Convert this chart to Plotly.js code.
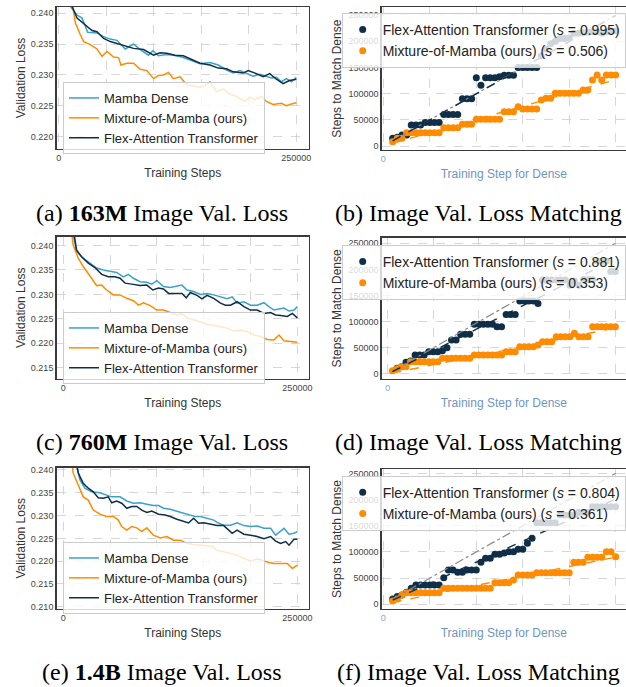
<!DOCTYPE html>
<html><head><meta charset="utf-8">
<script src="https://cdn.plot.ly/plotly-3.0.1.min.js"></script>
<style>html,body{margin:0;padding:0;background:#fff}#chart{width:626px;height:687px}</style>
</head><body><div id="chart"></div>
<script>
// ---------- Series names ----------
const NAME_MD = 'Mamba Dense';
const NAME_MOM = 'Mixture-of-Mamba (ours)';
const NAME_FLEX = 'Flex-Attention Transformer';

// ---------- (a) 163M validation loss ----------
const A_MD_STEPS = [10000,12500,19200,24500,30400,35000,40200,47200,54200,61200,69900,78700,85700,94400,99000,104900,113600,120600,129400,138100,148600,159100,167800,176600,183600,190600,197600,204500,211500,218500,223800,229000,234300,239500,244800,250000];
const A_MD_LOSS  = [0.2450,0.2410,0.2397,0.2392,0.2369,0.2368,0.2368,0.2362,0.2358,0.2356,0.2342,0.2350,0.2341,0.2332,0.2339,0.2331,0.2333,0.2332,0.2329,0.2324,0.2318,0.2320,0.2316,0.2308,0.2303,0.2307,0.2303,0.2298,0.2301,0.2298,0.2295,0.2296,0.2289,0.2294,0.2289,0.2296];
const A_FLEX_STEPS = [10000,14000,19200,28000,35000,40200,47200,54200,61200,69900,78700,89200,99700,106600,113600,122400,131100,139900,148600,159100,167800,176600,183600,194100,199300,208000,215000,222000,229000,236000,242700,250000];
const A_FLEX_LOSS  = [0.2450,0.2411,0.2392,0.2381,0.2372,0.2370,0.2359,0.2354,0.2351,0.2346,0.2343,0.2341,0.2332,0.2336,0.2335,0.2332,0.2331,0.2325,0.2319,0.2316,0.2311,0.2310,0.2305,0.2303,0.2307,0.2302,0.2297,0.2302,0.2293,0.2286,0.2291,0.2293];
const A_MOM_STEPS = [10000,17500,22700,26200,33200,40200,45500,50700,57700,62900,65400,71700,78700,85700,92700,99700,104900,110100,115400,120600,127600,134600,141600,148600,153800,159100,166100,173100,180100,187100,195800,201000,206300,213300,218500,225500,234300,239500,244800,250000];
const A_MOM_LOSS  = [0.2455,0.2384,0.2365,0.2354,0.2349,0.2342,0.2330,0.2338,0.2329,0.2328,0.2316,0.2319,0.2319,0.2309,0.2307,0.2294,0.2299,0.2300,0.2304,0.2294,0.2297,0.2284,0.2282,0.2280,0.2283,0.2289,0.2273,0.2277,0.2269,0.2265,0.2257,0.2264,0.2260,0.2265,0.2257,0.2252,0.2254,0.2250,0.2253,0.2255];

// ---------- (c) 760M validation loss ----------
const C_MD_STEPS = [9000,14300,21400,28600,35700,42900,50000,57100,64300,69600,75000,82100,89300,94600,100000,107100,114300,121400,126800,132100,139300,146400,153600,160700,167900,175000,180400,185700,192900,200000,207100,214300,219600,225000,230400,235700,241100,246400,250000];
const C_MD_LOSS  = [0.2440,0.2388,0.2374,0.2364,0.2354,0.2350,0.2347,0.2345,0.2336,0.2341,0.2333,0.2326,0.2325,0.2321,0.2328,0.2316,0.2314,0.2316,0.2319,0.2309,0.2306,0.2300,0.2302,0.2299,0.2295,0.2291,0.2295,0.2282,0.2285,0.2278,0.2278,0.2283,0.2275,0.2268,0.2270,0.2272,0.2266,0.2268,0.2275];
const C_FLEX_STEPS = [10000,14300,19600,26800,33900,41100,48200,55400,60700,66100,73200,82100,89300,95700,101800,107100,112500,119600,126800,131400,135700,142900,148200,153600,160700,167900,173200,178600,185700,192900,200000,207100,214300,221400,226800,232100,239300,244600,250000];
const C_FLEX_LOSS  = [0.2445,0.2391,0.2377,0.2364,0.2355,0.2341,0.2336,0.2336,0.2333,0.2323,0.2321,0.2318,0.2319,0.2309,0.2313,0.2311,0.2302,0.2302,0.2302,0.2293,0.2304,0.2298,0.2291,0.2298,0.2292,0.2282,0.2278,0.2278,0.2285,0.2275,0.2268,0.2268,0.2261,0.2263,0.2258,0.2257,0.2255,0.2261,0.2252];
const C_MOM_STEPS = [7500,10700,16100,21400,30400,35700,41100,46400,53600,60700,67900,75000,80400,85700,92900,100000,107100,114300,121400,126800,132100,139300,146400,153600,160700,167900,175000,182100,189300,196400,203600,210700,217900,225000,230400,235700,242900,250000];
const C_MOM_LOSS  = [0.2450,0.2401,0.2374,0.2357,0.2333,0.2318,0.2319,0.2309,0.2299,0.2299,0.2292,0.2287,0.2278,0.2283,0.2277,0.2268,0.2268,0.2263,0.2258,0.2261,0.2252,0.2248,0.2244,0.2239,0.2237,0.2234,0.2231,0.2225,0.2227,0.2224,0.2217,0.2214,0.2208,0.2207,0.2217,0.2205,0.2203,0.2202];

// ---------- (e) 1.4B validation loss ----------
const E_MD_STEPS = [10000,17900,23200,30400,39300,46400,51800,60700,67900,75000,82100,89300,96400,101800,107100,114300,121400,128600,135700,141100,146400,153600,160700,166100,171400,178600,185700,192900,200000,207100,214300,221400,226800,232100,235700,241100,246400,250000];
const E_MD_LOSS  = [0.2455,0.2378,0.2360,0.2352,0.2350,0.2345,0.2341,0.2341,0.2332,0.2327,0.2328,0.2325,0.2322,0.2322,0.2316,0.2314,0.2309,0.2305,0.2301,0.2298,0.2298,0.2294,0.2290,0.2283,0.2279,0.2279,0.2284,0.2278,0.2276,0.2277,0.2272,0.2272,0.2257,0.2266,0.2272,0.2259,0.2261,0.2265];
const E_FLEX_STEPS = [10000,16100,21400,26800,32100,37500,42900,48200,51800,57100,62500,67900,73200,78600,83900,89300,94600,101800,108900,114300,121400,128600,133900,139300,144600,150000,157100,164300,171400,180400,185700,192900,200000,207100,214300,221400,226800,232100,237500,241100,246400,250000];
const E_FLEX_LOSS  = [0.2460,0.2393,0.2371,0.2360,0.2352,0.2339,0.2338,0.2341,0.2328,0.2332,0.2327,0.2316,0.2320,0.2320,0.2312,0.2307,0.2310,0.2303,0.2301,0.2298,0.2292,0.2287,0.2284,0.2294,0.2283,0.2284,0.2281,0.2278,0.2278,0.2261,0.2268,0.2259,0.2257,0.2254,0.2249,0.2254,0.2244,0.2239,0.2243,0.2235,0.2248,0.2248];
const E_MOM_STEPS = [7500,10700,16100,21400,26800,32100,39300,46400,53600,58900,62500,67900,73200,78600,83900,89300,96400,103600,110700,117900,125000,132100,137500,144600,151800,158900,164300,171400,178600,185700,192900,200000,207100,214300,219600,225000,232100,239300,244600,250000];
const E_MOM_LOSS  = [0.2450,0.2393,0.2367,0.2341,0.2334,0.2312,0.2303,0.2298,0.2298,0.2290,0.2276,0.2268,0.2276,0.2273,0.2265,0.2273,0.2257,0.2251,0.2254,0.2246,0.2246,0.2239,0.2237,0.2235,0.2234,0.2232,0.2224,0.2221,0.2217,0.2213,0.2206,0.2200,0.2205,0.2200,0.2197,0.2195,0.2195,0.2195,0.2184,0.2191];

// ---------- Loss matching (steps for dense -> steps to match) ----------
const DENSE_STEPS = [5000,10000,15000,20000,25000,30000,35000,40000,45000,50000,55000,60000,65000,70000,75000,80000,85000,90000,95000,100000,105000,110000,115000,120000,125000,130000,135000,140000,145000,150000,155000,160000,165000,170000,175000,180000,185000,190000,195000,200000,205000,210000,215000,220000,225000,230000,235000,240000,245000,250000];
const B_FLEX = [null,14600,16500,21000,21000,40000,40000,40000,45000,45000,45000,45000,60000,60000,60000,60000,90000,90000,90000,130000,116000,130000,130000,130000,132000,135000,135000,135000,150000,150000,150000,150000,150000,172000,185000,195000,200000,205000,205000,206000,215000,215000,216000,217000,218000,218000,215000,218000,220000,220000];
const B_MOM  = [null,8300,14600,14600,25400,25400,25400,25400,25400,25400,25400,25400,35000,35000,35000,35000,41300,41300,41300,50900,50900,50900,50900,50900,50900,65500,65500,65500,75000,70600,70600,70600,70600,87800,91000,91000,100500,100500,100500,100500,100500,100500,106900,106900,126000,135500,126000,135500,135500,135500];
const D_FLEX = [null,10800,14000,22300,25000,36400,36400,36400,42700,42700,42700,44600,50400,65000,65000,75900,75900,75900,95000,95000,95000,95000,95000,90600,90600,114000,114000,114000,139700,139700,139700,139700,135000,180000,180000,180000,180000,180000,180000,170000,178000,170000,181000,181000,181000,216000,216000,216000,196000,196000];
const D_MOM  = [6400,10000,14000,14000,23600,23600,23600,23600,23600,23600,23600,30000,30000,30000,30000,30000,30000,30000,36400,36400,36400,36400,36400,36400,36400,42700,42700,42700,52300,52300,52300,52300,55500,61900,61900,61900,71400,71400,71400,71400,77800,71400,71400,71400,90600,90600,90600,90600,90600,90600];
const F_FLEX = [null,10200,15000,17800,22900,30500,36900,36900,36900,36900,36900,36900,50900,65500,65500,61100,61100,65500,65500,65500,80200,87800,87800,95400,95400,98000,100500,100500,105000,105000,116400,126000,155900,155900,155900,155900,155900,170500,170500,170500,170500,175600,175600,175600,186400,186400,186400,186400,186400,186400];
const F_MOM  = [null,6400,10000,17800,22300,22300,22300,22300,22300,22300,22300,22300,30500,30500,30500,30500,30500,30500,30500,30500,30500,30500,30500,41300,41300,41300,41300,46400,56000,56000,56000,56000,60400,60400,60400,60400,60400,60400,60400,60400,80200,80200,80200,89700,89700,89700,89700,100500,100500,91000];
const SLOPES_FLEX = [0.995, 0.881, 0.804];
const SLOPES_MOM  = [0.506, 0.353, 0.361];

// ---------- Axis ticks & captions ----------
const X_TICKS = [0,50000,100000,150000,200000,250000];
const X_TICKTEXT = ['0','','','','','250000'];
const Y_TICKS_A = [0.220,0.225,0.230,0.235,0.240];
const Y_TICKS_C = [0.215,0.220,0.225,0.230,0.235,0.240];
const Y_TICKS_E = [0.210,0.215,0.220,0.225,0.230,0.235,0.240];
const Y_TICKS_MATCH = [0,50000,100000,150000,200000,250000];
const CAPTIONS = ['(a) <b>163M</b> Image Val. Loss','(b) Image Val. Loss Matching',
                  '(c) <b>760M</b> Image Val. Loss','(d) Image Val. Loss Matching',
                  '(e) <b>1.4B</b> Image Val. Loss','(f) Image Val. Loss Matching'];

// ---------- Styling ----------
const W = 626, H = 687;
const C_MD = '#3aa2c9', C_MOM = '#ff8c00', C_FLEX = '#0f2e47', C_ID = '#8a8a8a';
const SANS = 'Liberation Sans, Arial, sans-serif';
const px = v => v / W, py = v => 1 - v / H;

const traces = [];
function lossPanel(k, md, mom, flex) {
  const xa = 'x' + (k === 1 ? '' : k), ya = 'y' + (k === 1 ? '' : k);
  const lg = k === 1 ? 'legend' : 'legend' + k;
  [[NAME_MD, md, C_MD], [NAME_MOM, mom, C_MOM], [NAME_FLEX, flex, C_FLEX]].forEach(([n, d, c]) => {
    traces.push({x: d[0], y: d[1], name: n, type: 'scatter', mode: 'lines', xaxis: xa, yaxis: ya, legend: lg,
      line: {color: c, width: 1.5}});
  });
}
function matchPanel(k, flex, mom, sFlex, sMom) {
  const xa = 'x' + k, ya = 'y' + k, lg = 'legend' + k;
  const xs = DENSE_STEPS.filter((v, i) => flex[i] !== null || mom[i] !== null);
  const x0 = xs[0], x1 = xs[xs.length - 1];
  traces.push({x: DENSE_STEPS, y: flex, type: 'scatter', mode: 'markers', xaxis: xa, yaxis: ya, legend: lg,
    name: NAME_FLEX + ' (<i>s</i> = ' + sFlex.toFixed(3) + ')', marker: {color: C_FLEX, size: 7}});
  traces.push({x: DENSE_STEPS, y: mom, type: 'scatter', mode: 'markers', xaxis: xa, yaxis: ya, legend: lg,
    name: NAME_MOM + ' (<i>s</i> = ' + sMom.toFixed(3) + ')', marker: {color: C_MOM, size: 7}});
  traces.push({x: [x0, x1], y: [x0, x1], type: 'scatter', mode: 'lines', xaxis: xa, yaxis: ya, showlegend: false,
    line: {color: C_ID, width: 1.2, dash: 'dashdot'}, hoverinfo: 'skip'});
  traces.push({x: [x0, x1], y: [x0 * sFlex, x1 * sFlex], type: 'scatter', mode: 'lines', xaxis: xa, yaxis: ya, showlegend: false,
    line: {color: C_FLEX, width: 1.4, dash: 'dash'}, hoverinfo: 'skip'});
  traces.push({x: [x0, x1], y: [x0 * sMom, x1 * sMom], type: 'scatter', mode: 'lines', xaxis: xa, yaxis: ya, showlegend: false,
    line: {color: C_MOM, width: 1.4, dash: 'dash'}, hoverinfo: 'skip'});
}
lossPanel(1, [A_MD_STEPS, A_MD_LOSS], [A_MOM_STEPS, A_MOM_LOSS], [A_FLEX_STEPS, A_FLEX_LOSS]);
matchPanel(2, B_FLEX, B_MOM, SLOPES_FLEX[0], SLOPES_MOM[0]);
lossPanel(3, [C_MD_STEPS, C_MD_LOSS], [C_MOM_STEPS, C_MOM_LOSS], [C_FLEX_STEPS, C_FLEX_LOSS]);
matchPanel(4, D_FLEX, D_MOM, SLOPES_FLEX[1], SLOPES_MOM[1]);
lossPanel(5, [E_MD_STEPS, E_MD_LOSS], [E_MOM_STEPS, E_MOM_LOSS], [E_FLEX_STEPS, E_FLEX_LOSS]);
matchPanel(6, F_FLEX, F_MOM, SLOPES_FLEX[2], SLOPES_MOM[2]);

function baseAxis(extra) {
  return Object.assign({showgrid: true, gridcolor: '#cdcdcd', griddash: 'dash', gridwidth: 0.8,
    showline: true, mirror: true, linecolor: '#3a3a3a', linewidth: 1.3, ticks: '', zeroline: false,
    automargin: false, tickfont: {family: SANS, size: 9, color: '#444'}}, extra);
}
const layout = {width: W, height: H, margin: {l: 0, r: 0, t: 0, b: 0, autoexpand: false}, paper_bgcolor: '#fff', plot_bgcolor: '#fff',
  showlegend: true, font: {family: SANS}, annotations: []};

const ROWS = [
  {top: 7, bot: 149, lossX: [-2400, 263300], lossY: [0.2180, 0.2410], yt: Y_TICKS_A, rTop: 7.3, rBot: 150, mX: [-1800, 261100], mY: [-7600, 264600], cap: 213, legL: 82, legR: 13},
  {top: 236.7, bot: 379, lossX: [-7100, 262400], lossY: [0.2127, 0.2418], yt: Y_TICKS_C, rTop: 237.7, rBot: 379, mX: [-6700, 261700], mY: [-9600, 260800], cap: 442, legL: 312, legR: 245},
  {top: 467.7, bot: 609, lossX: [-7100, 262400], lossY: [0.2095, 0.2405], yt: Y_TICKS_E, rTop: 469, rBot: 609, mX: [-1800, 261100], mY: [-8900, 258300], cap: 672, legL: 542, legR: 475.7}
];
const LEFT_X = [56.5, 309], RIGHT_X = [381.7, 626];

ROWS.forEach((r, i) => {
  const kL = 2 * i + 1, kR = 2 * i + 2;
  const xL = kL === 1 ? 'xaxis' : 'xaxis' + kL, yL = kL === 1 ? 'yaxis' : 'yaxis' + kL;
  const aL = kL === 1 ? '' : String(kL);
  layout[xL] = baseAxis({domain: [px(LEFT_X[0]), px(LEFT_X[1])], range: r.lossX, anchor: 'y' + aL,
    tickvals: X_TICKS, ticktext: X_TICKTEXT,
    title: {text: 'Training Steps', font: {family: SANS, size: 12, color: '#333'}, standoff: 6}});
  layout[yL] = baseAxis({domain: [py(r.bot), py(r.top)], range: r.lossY, anchor: 'x' + aL,
    tickvals: r.yt, tickformat: '.3f',
    title: {text: 'Validation Loss', font: {family: SANS, size: 12, color: '#333'}, standoff: 2}});
  layout['xaxis' + kR] = baseAxis({domain: [px(RIGHT_X[0]), px(RIGHT_X[1])], range: r.mX, anchor: 'y' + kR,
    tickvals: X_TICKS, ticktext: X_TICKTEXT, tickfont: {family: SANS, size: 9, color: '#86a6cc'},
    title: {text: 'Training Step for Dense', font: {family: SANS, size: 12, color: '#6f95c0'}, standoff: 6}});
  layout['yaxis' + kR] = baseAxis({domain: [py(r.rBot), py(r.rTop)], range: r.mY, anchor: 'x' + kR,
    tickvals: Y_TICKS_MATCH, tickformat: 'd',
    title: {text: 'Steps to Match Dense', font: {family: SANS, size: 12, color: '#333'}, standoff: 4}});
  const legBase = {bgcolor: 'rgba(255,255,255,0.8)', bordercolor: '#cccccc', borderwidth: 1,
    xanchor: 'left', yanchor: 'top', tracegroupgap: 0};
  layout[kL === 1 ? 'legend' : 'legend' + kL] = Object.assign({}, legBase,
    {x: px(63), y: py(r.legL), font: {family: SANS, size: 13, color: '#222'}});
  layout['legend' + kR] = Object.assign({}, legBase,
    {x: px(341.7), y: py(r.legR), font: {family: SANS, size: 14, color: '#222'}});
  layout.annotations.push({text: CAPTIONS[2 * i], xref: 'paper', yref: 'paper', x: px(162), y: py(r.cap),
    xanchor: 'center', yanchor: 'middle', showarrow: false, font: {family: 'Liberation Serif, Times New Roman, serif', size: 24, color: '#000'}});
  layout.annotations.push({text: CAPTIONS[2 * i + 1], xref: 'paper', yref: 'paper', x: px(478.5), y: py(r.cap),
    xanchor: 'center', yanchor: 'middle', showarrow: false, font: {family: 'Liberation Serif, Times New Roman, serif', size: 24, color: '#000'}});
});

Plotly.newPlot('chart', traces, layout, {staticPlot: true, displayModeBar: false});
</script></body></html>
